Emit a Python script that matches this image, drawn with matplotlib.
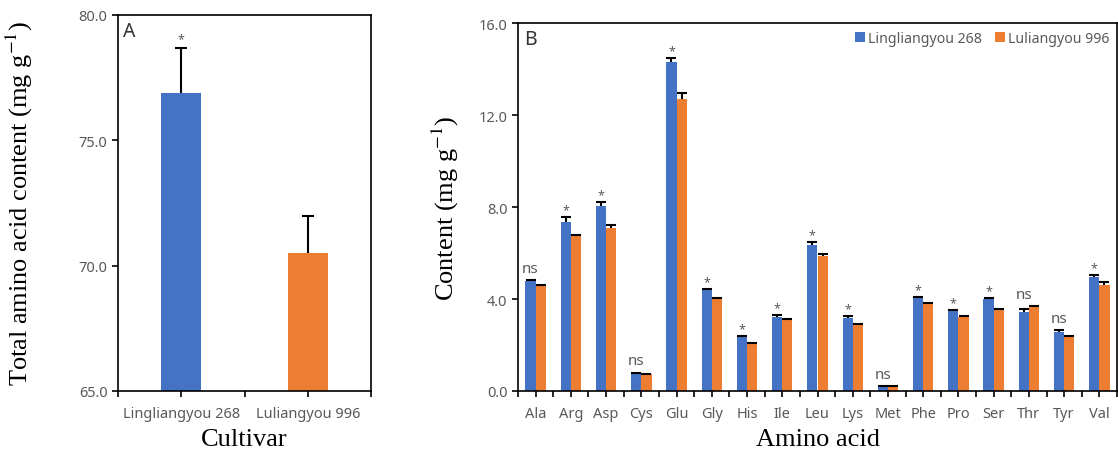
import numpy as np
import matplotlib
matplotlib.use("Agg")
import matplotlib.pyplot as plt

plt.rcParams['mathtext.fontset'] = 'stix'

# panel A data
cultivars = ["Lingliangyou 268", "Luliangyou 996"]
total = [76.9, 70.5]
total_err = [1.8, 1.5]
total_sig = ["*", ""]

# panel B data
acids = ["Ala", "Arg", "Asp", "Cys", "Glu", "Gly", "His", "Ile", "Leu",
         "Lys", "Met", "Phe", "Pro", "Ser", "Thr", "Tyr", "Val"]
ling = [4.80, 7.36, 8.06, 0.78, 14.29, 4.39, 2.36, 3.23, 6.35,
        3.17, 0.19, 4.03, 3.49, 4.00, 3.42, 2.55, 4.94]
ling_err = [0.02, 0.22, 0.15, 0.02, 0.20, 0.04, 0.03, 0.08, 0.12,
            0.09, 0.02, 0.05, 0.05, 0.04, 0.16, 0.09, 0.12]
lu = [4.55, 6.72, 7.07, 0.74, 12.70, 4.00, 2.07, 3.09, 5.88,
      2.88, 0.19, 3.78, 3.23, 3.54, 3.64, 2.38, 4.62]
lu_err = [0.08, 0.06, 0.15, 0.02, 0.25, 0.03, 0.02, 0.04, 0.08,
          0.04, 0.02, 0.03, 0.02, 0.04, 0.05, 0.02, 0.11]
sig = ["ns", "*", "*", "ns", "*", "*", "*", "*", "*",
       "*", "ns", "*", "*", "*", "ns", "ns", "*"]

blue = "#4472C4"
orange = "#ED7D31"
gray = "#595959"
tickfont = "Noto Sans"
labelfont = "Liberation Serif"

W, H = 1118, 452
fig = plt.figure(figsize=(W/100, H/100), dpi=100)

def px(l, t, r, b):
    return [l/W, 1-b/H, (r-l)/W, (b-t)/H]

def style(ax):
    for s in ax.spines.values():
        s.set_color("black")
        s.set_linewidth(1.2)
    ax.tick_params(axis="both", direction="out", length=4, width=1.2,
                   colors="black", labelcolor=gray, labelsize=10.5)
    for lab in ax.get_xticklabels() + ax.get_yticklabels():
        lab.set_fontfamily(tickfont)

def upper_only(bars):
    # keep only the upper cap of the error bar
    caps = bars.errorbar.lines[1]
    if len(caps) == 2:
        caps[0].set_visible(False)

ekw = dict(elinewidth=1.5, capthick=1.5, ecolor="black")

# ---- panel A
axA = fig.add_axes(px(118, 16, 371, 392))
xa = np.arange(len(cultivars))
bA = axA.bar(xa, total, width=0.32, color=[blue, orange],
             yerr=[np.zeros(2), total_err], capsize=4, error_kw=ekw)
upper_only(bA)
axA.set_ylim(65, 80)
axA.set_xlim(-0.5, 1.5)
axA.set_yticks([65, 70, 75, 80])
axA.set_yticklabels(["%.1f" % v for v in [65, 70, 75, 80]])
axA.set_xticks(xa)
axA.set_xticklabels(cultivars)
axA.set_xticks([-0.5, 0.5, 1.5], minor=True)
axA.tick_params(axis="x", which="major", length=0, pad=7)
axA.tick_params(axis="x", which="minor", length=4, width=1.2)
style(axA)
for i in range(len(cultivars)):
    if total_sig[i]:
        axA.annotate(total_sig[i], (xa[i], total[i] + total_err[i]),
                     xytext=(0, 1.5), textcoords="offset points",
                     ha="center", va="bottom", fontsize=9, color=gray,
                     family=tickfont)
axA.text(0.02, 0.985, "A", transform=axA.transAxes, ha="left", va="top",
         fontsize=14, family=tickfont, color="#333333")
axA.set_ylabel("Total amino acid content (mg g$^{-1}$)", family=labelfont,
               fontsize=19)
axA.set_xlabel("Cultivar", family=labelfont, fontsize=19)
axA.yaxis.set_label_coords(-0.33, 0.5)
axA.xaxis.set_label_coords(0.5, -0.098)

# ---- panel B
axB = fig.add_axes(px(518, 24, 1117, 392))
xb = np.arange(len(acids))
w = 0.29
b1 = axB.bar(xb - w/2, ling, width=w, color=blue, label="Lingliangyou 268",
             yerr=[np.zeros(len(ling)), ling_err], capsize=3.5, error_kw=ekw)
b2 = axB.bar(xb + w/2, lu, width=w, color=orange, label="Luliangyou 996",
             yerr=[np.zeros(len(lu)), lu_err], capsize=3.5, error_kw=ekw)
upper_only(b1)
upper_only(b2)
axB.set_ylim(0, 16)
axB.set_xlim(-0.5, len(acids) - 0.5)
yt = [0, 4, 8, 12, 16]
axB.set_yticks(yt)
axB.set_yticklabels(["%.1f" % v for v in yt])
axB.set_xticks(xb)
axB.set_xticklabels(acids)
axB.set_xticks(np.arange(len(acids) + 1) - 0.5, minor=True)
axB.tick_params(axis="x", which="major", length=0, pad=7)
axB.tick_params(axis="x", which="minor", length=4, width=1.2)
style(axB)
for i in range(len(acids)):
    top = ling[i] + ling_err[i]
    if sig[i] == "*":
        axB.annotate("*", (xb[i] - w/2, top), xytext=(0, 0.5),
                     textcoords="offset points", ha="center", va="bottom",
                     fontsize=9, color=gray, family=tickfont)
    else:
        top = max(top, lu[i] + lu_err[i])
        axB.annotate("ns", (xb[i] - w/2, top), xytext=(0, 3),
                     textcoords="offset points", ha="center", va="bottom",
                     fontsize=11, color=gray, family=tickfont)
axB.text(0.01, 0.985, "B", transform=axB.transAxes, ha="left", va="top",
         fontsize=14, family=tickfont, color="#333333")
leg = axB.legend(loc="upper right", frameon=False, ncol=2,
                 handlelength=0.7, handleheight=0.7, handletextpad=0.2,
                 columnspacing=0.9, borderaxespad=0.15,
                 prop={"family": tickfont, "size": 10.2})
for t in leg.get_texts():
    t.set_color(gray)
axB.set_ylabel("Content (mg g$^{-1}$)", family=labelfont, fontsize=19)
axB.set_xlabel("Amino acid", family=labelfont, fontsize=19)
axB.yaxis.set_label_coords(-0.095, 0.5)
axB.xaxis.set_label_coords(0.5, -0.1)

fig.savefig("out.png", dpi=100)
